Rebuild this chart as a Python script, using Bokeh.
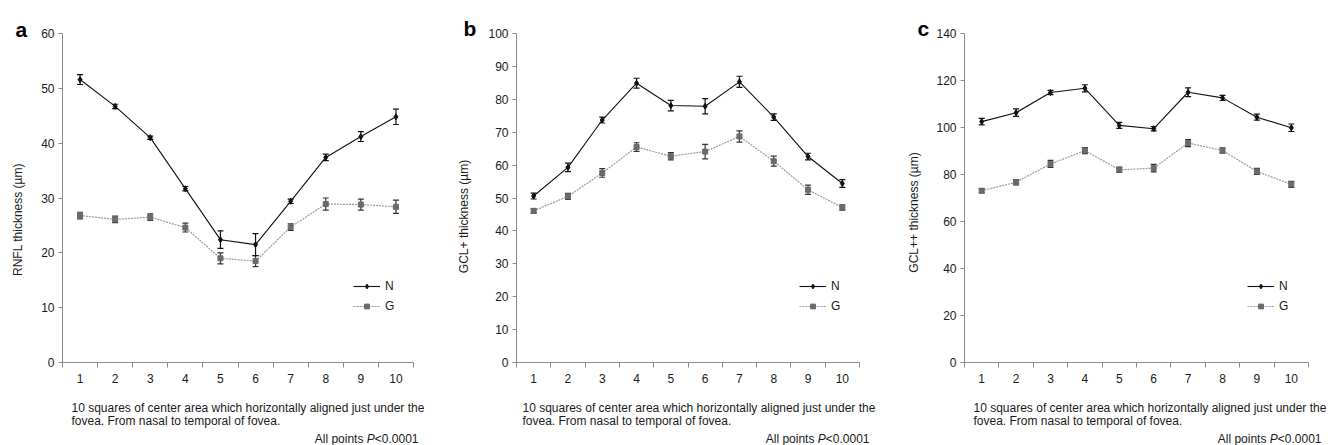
from math import pi
from bokeh.plotting import figure
from bokeh.layouts import row
from bokeh.models import (ColumnDataSource, Range1d, FixedTicker, Whisker, TeeHead,
                          Label, Legend, LegendItem)
from bokeh.embed import file_html
from bokeh.resources import INLINE

# ---------------- data ----------------
squares = [1, 2, 3, 4, 5, 6, 7, 8, 9, 10]
square_edges = [0.5, 1.5, 2.5, 3.5, 4.5, 5.5, 6.5, 7.5, 8.5, 9.5, 10.5]
series_names = ["N", "G"]

rnfl_n = [51.6, 46.7, 41.0, 31.7, 22.4, 21.5, 29.4, 37.4, 41.2, 44.8]
rnfl_n_err = [0.9, 0.4, 0.3, 0.4, 1.6, 2.0, 0.4, 0.6, 0.9, 1.4]
rnfl_g = [26.8, 26.1, 26.5, 24.6, 19.0, 18.5, 24.7, 28.9, 28.8, 28.4]
rnfl_g_err = [0.6, 0.6, 0.6, 0.8, 1.0, 1.0, 0.6, 1.1, 1.0, 1.2]

gcl_n = [50.6, 59.3, 73.7, 84.9, 78.1, 77.9, 85.3, 74.6, 62.6, 54.4]
gcl_n_err = [0.9, 1.3, 0.9, 1.5, 1.6, 2.3, 1.7, 1.0, 1.0, 1.2]
gcl_g = [46.1, 50.5, 57.6, 65.5, 62.7, 64.1, 68.7, 61.2, 52.5, 47.1]
gcl_g_err = [0.7, 0.9, 1.3, 1.3, 1.1, 2.2, 1.7, 1.5, 1.4, 0.8]

gclpp_n = [102.5, 106.3, 114.9, 116.7, 100.9, 99.5, 115.0, 112.6, 104.4, 99.9]
gclpp_n_err = [1.4, 1.6, 0.9, 1.5, 1.3, 0.9, 1.9, 1.1, 1.3, 1.6]
gclpp_g = [73.1, 76.7, 84.5, 90.2, 82.0, 82.7, 93.4, 90.2, 81.3, 75.8]
gclpp_g_err = [0.9, 1.1, 1.5, 1.3, 1.1, 1.6, 1.5, 1.1, 1.3, 1.3]

panel_letters = ["a", "b", "c"]
y_labels = ["RNFL thickness (\u00b5m)", "GCL+ thickness (\u00b5m)", "GCL++ thickness (\u00b5m)"]
y_max = [60, 100, 140]
y_step = [10, 10, 20]
caption_1 = "10 squares of center area which horizontally aligned just under the"
caption_2 = "fovea. From nasal to temporal of fovea."
p_note = ["All points", "P", "<0.0001"]

# ---------------- style / layout ----------------
FONT = "Liberation Sans"
FIG_H = 445
PLOT_TOP = 33      # px from figure top to y = ymax
PLOT_BOTTOM = 362  # px from figure top to y = 0
N_COLOR = "#111111"
G_MARK = "#6a6a6a"
G_LINE = "#9a9a9a"
AXIS_COLOR = "#8a8a8a"
TEXT_COLOR = "#1a1a1a"

layouts = [
    dict(w=448, pl=62, pr=413, letter=(-47, 4), ylab=(-45, 143), leg=(291, 46), cap_x=9, note_r=5),
    dict(w=448, pl=68, pr=411, letter=(-53, 5), ylab=(-53, 146), leg=(283, 46), cap_x=6, note_r=10),
    dict(w=437, pl=68, pr=412, letter=(-47, 5), ylab=(-51, 150), leg=(283, 46), cap_x=9, note_r=13),
]

datasets = [
    (rnfl_n, rnfl_n_err, rnfl_g, rnfl_g_err),
    (gcl_n, gcl_n_err, gcl_g, gcl_g_err),
    (gclpp_n, gclpp_n_err, gclpp_g, gclpp_g_err),
]


def make_panel(i):
    lay = layouts[i]
    n, ne, g, ge = datasets[i]
    ymax = y_max[i]
    W = lay["w"]
    pl, pr = lay["pl"], lay["pr"]
    ux = (pr - pl) / 10.0                    # px per x unit
    uy = (PLOT_BOTTOM - PLOT_TOP) / ymax     # px per y unit
    xr = Range1d(0.5 - pl / ux, 10.5 + (W - pr) / ux)
    yr = Range1d(-(FIG_H - PLOT_BOTTOM) / uy, ymax + PLOT_TOP / uy)

    p = figure(width=W, height=FIG_H, x_range=xr, y_range=yr, title=None,
               output_backend="svg", toolbar_location=None,
               min_border_left=0, min_border_right=0, min_border_top=0, min_border_bottom=0)
    p.outline_line_color = None
    p.grid.visible = False
    p.background_fill_color = "white"
    p.border_fill_color = "white"

    xa = p.xaxis[0]
    xa.fixed_location = 0
    xa.bounds = (0.5, 10.5)
    xa.ticker = FixedTicker(ticks=squares, minor_ticks=square_edges)
    xa.axis_line_color = AXIS_COLOR
    xa.major_tick_line_color = None
    xa.major_tick_out = 0
    xa.major_tick_in = 0
    xa.minor_tick_line_color = AXIS_COLOR
    xa.minor_tick_out = 5
    xa.minor_tick_in = 0
    xa.major_label_standoff = 6
    xa.major_label_text_font = FONT
    xa.major_label_text_font_size = "12px"
    xa.major_label_text_color = TEXT_COLOR

    ya = p.yaxis[0]
    ya.fixed_location = 0.5
    ya.bounds = (0, ymax)
    ya.ticker = FixedTicker(ticks=list(range(0, ymax + 1, y_step[i])), minor_ticks=[])
    ya.axis_line_color = AXIS_COLOR
    ya.major_tick_line_color = AXIS_COLOR
    ya.major_tick_out = 4
    ya.major_tick_in = 0
    ya.minor_tick_line_color = None
    ya.major_label_standoff = 4
    ya.major_label_text_font = FONT
    ya.major_label_text_font_size = "12px"
    ya.major_label_text_color = TEXT_COLOR

    src_n = ColumnDataSource(dict(x=squares, y=n,
                                  lo=[a - b for a, b in zip(n, ne)],
                                  hi=[a + b for a, b in zip(n, ne)]))
    src_g = ColumnDataSource(dict(x=squares, y=g,
                                  lo=[a - b for a, b in zip(g, ge)],
                                  hi=[a + b for a, b in zip(g, ge)]))

    ln_g = p.line("x", "y", source=src_g, line_color=G_LINE, line_width=1.2, line_dash="2 1")
    ln_n = p.line("x", "y", source=src_n, line_color=N_COLOR, line_width=1.1)

    for src, col in ((src_g, "#333333"), (src_n, "#111111")):
        w = Whisker(source=src, base="x", lower="lo", upper="hi", dimension="height",
                    line_color=col, line_width=1.2,
                    lower_head=TeeHead(size=6, line_color=col, line_width=1.2),
                    upper_head=TeeHead(size=6, line_color=col, line_width=1.2))
        p.add_layout(w)

    sc_g = p.scatter("x", "y", source=src_g, marker="square", size=5,
                     fill_color=G_MARK, line_color=G_MARK)
    sc_n = p.scatter("x", "y", source=src_n, marker="diamond", size=6,
                     fill_color=N_COLOR, line_color=N_COLOR)

    lx, ly = lay["leg"]
    legend = Legend(items=[LegendItem(label=series_names[0], renderers=[ln_n, sc_n]),
                           LegendItem(label=series_names[1], renderers=[ln_g, sc_g])],
                    location=(pl + lx, (FIG_H - PLOT_BOTTOM) + ly),
                    glyph_width=27, glyph_height=12, label_height=20,
                    spacing=0, padding=0, margin=0, label_standoff=5,
                    border_line_color=None, background_fill_alpha=0,
                    label_text_font=FONT, label_text_font_size="12px",
                    label_text_color=TEXT_COLOR)
    p.add_layout(legend)

    # panel letter
    p.add_layout(Label(x=0.5, y=ymax, x_offset=lay["letter"][0], y_offset=lay["letter"][1],
                       text=panel_letters[i], text_font=FONT, text_font_size="21px",
                       text_font_style="bold", text_color="black",
                       text_align="left", text_baseline="alphabetic"))
    # y label
    p.add_layout(Label(x=0.5, y=0, x_offset=lay["ylab"][0], y_offset=lay["ylab"][1],
                       text=y_labels[i], angle=pi / 2, text_font=FONT, text_font_size="12px",
                       text_color=TEXT_COLOR, text_align="center", text_baseline="middle"))
    # caption
    for txt, dy in ((caption_1, -45), (caption_2, -58)):
        p.add_layout(Label(x=0.5, y=0, x_offset=lay["cap_x"], y_offset=dy, text=txt,
                           text_font=FONT, text_font_size="12px", text_color=TEXT_COLOR,
                           text_align="left", text_baseline="middle"))
    # "All points P<0.0001" (P italic)
    r = lay["note_r"]
    w_num = 3.642 * 12
    w_p = 0.667 * 12
    w_sp = 0.278 * 12
    for txt, off, style in ((p_note[2], r, "normal"),
                            (p_note[1], r - w_num, "italic"),
                            (p_note[0], r - w_num - w_p - w_sp, "normal")):
        p.add_layout(Label(x=10.5, y=0, x_offset=off, y_offset=-76, text=txt,
                           text_font=FONT, text_font_size="12px", text_font_style=style,
                           text_color=TEXT_COLOR, text_align="right", text_baseline="middle"))
    return p


plots = [make_panel(i) for i in range(3)]
layout = row(*plots)
open("out.html", "w").write(file_html(layout, INLINE))
